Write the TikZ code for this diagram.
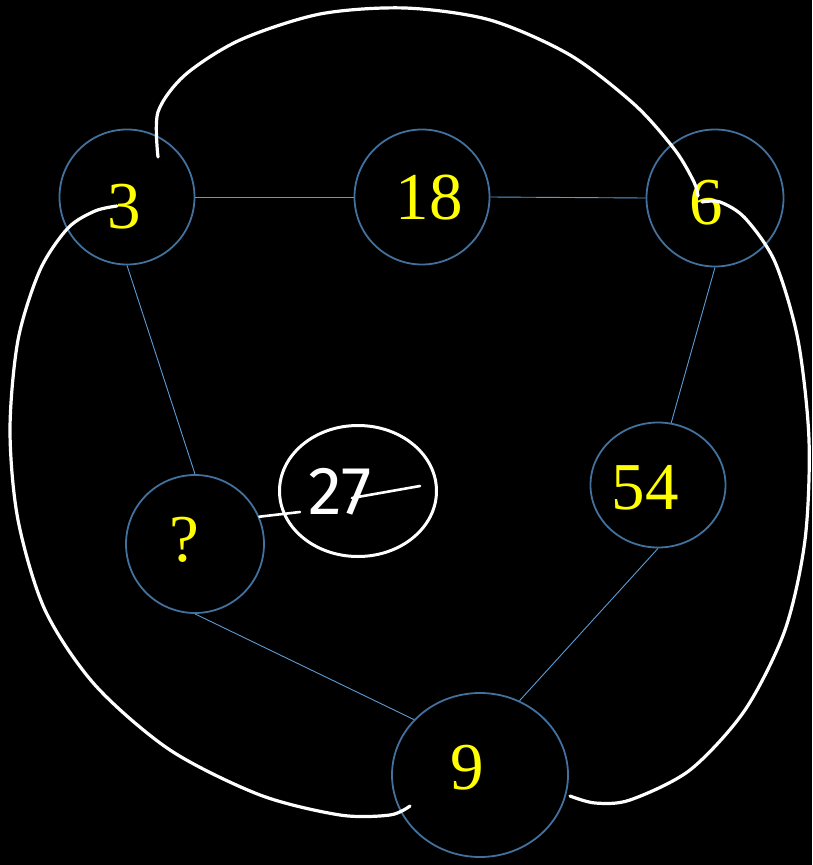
\documentclass[tikz,border=0pt]{standalone}
\usepackage{fontspec}
\setmainfont{Liberation Serif}
\newfontfamily\handfont{Fira Sans}
\usetikzlibrary{shapes.geometric, calc}
\definecolor{ringblue}{HTML}{41719C}
\definecolor{linkblue}{HTML}{5B9BD5}
\definecolor{numyellow}{HTML}{FFFF00}

\begin{document}
\begin{tikzpicture}[x=1pt, y=-1pt,
    num/.style={circle, draw=ringblue, line width=1.8pt, minimum size=135pt, inner sep=0pt},
    numlbl/.style={text=numyellow, font=\fontsize{67}{67}\selectfont, inner sep=0pt},
    link/.style={linkblue, line width=0.9pt},
    hand/.style={white, line width=3.2pt, line cap=round, line join=round}]
  \fill[black] (0,0) rectangle (812,865);
  \useasboundingbox (0,0) rectangle (812,865);
  % number rings
  \node[num, label={[numlbl, xshift=-3pt, yshift=-10pt]center:3}] (n3) at (127,197) {};
  \node[num, label={[numlbl, xshift=7pt, yshift=-1pt]center:18}] (n18) at (422,197) {};
  \node[num, minimum size=137pt, label={[numlbl, xshift=-9pt, yshift=-5pt]center:6}] (n6) at (715,198) {};
  \node[num, ellipse, minimum width=135pt, minimum height=125pt,
    label={[numlbl, xshift=-13pt, yshift=-3pt]center:54}] (n54) at (658,485) {};
  \node[num, minimum size=138pt, label={[numlbl, xshift=-11pt, yshift=4pt]center:?}] (nq) at (195,544) {};
  \node[num, ellipse, minimum width=176pt, minimum height=164pt,
    label={[numlbl, xshift=-13pt, yshift=7pt]center:9}] (n9) at (480,775) {};
  % thin links
  \draw[link] (n3.east) -- (n18.west);
  \draw[link] (n18.east) -- (n6.west);
  \draw[link] (n3.south) -- (nq.north);
  \draw[link] (n6.south) -- (n54.78);
  \draw[link] (n54.south) -- (n9.62);
  \draw[link] (nq.south) -- (n9.140);
  % hand drawn loops
  \coordinate (t3) at ($(n3)+(31,-40)$);
  \coordinate (t6) at ($(n6)+(-17,-2)$);
  \coordinate (s3) at ($(n3)+(-10,9)$);
  \coordinate (s6) at ($(n6)+(-13,4)$);
  \coordinate (e9a) at ($(n9)+(-70,31)$);
  \coordinate (e9b) at ($(n9)+(90,21)$);
  \draw[hand] plot[smooth] coordinates {(t3) (158,112) (185,75) (240,40) (320,14) (405,8)
    (490,20) (570,55) (635,105) (675,150) (694,182) (t6)};
  \draw[hand] plot[smooth] coordinates {(s3) (95,211) (68,228) (40,270) (18,340) (10,430)
    (18,520) (45,610) (95,685) (170,750) (260,795) (340,815) (390,815) (e9a)};
  \draw[hand] plot[smooth] coordinates {(s6) (720,202) (745,218) (775,262) (798,340) (809,440)
    (805,540) (785,630) (745,710) (690,770) (630,800) (595,803) (e9b)};
  % answer
  \node[ellipse, draw=white, line width=3pt, minimum width=157pt, minimum height=131pt] (ans) at (358,491) {};
  \node[text=white, font=\handfont\fontsize{68}{68}\selectfont] (ansnum) at ($(ans)+(-18,1)$) {27};
  \draw[hand, line width=2.6pt] ($(ansnum)+(12,6)$) -- ($(ansnum)+(80,-6)$);
  \draw[hand, line width=2.6pt] (nq.23) -- ($(ansnum)+(-40,20)$);
\end{tikzpicture}
\end{document}
